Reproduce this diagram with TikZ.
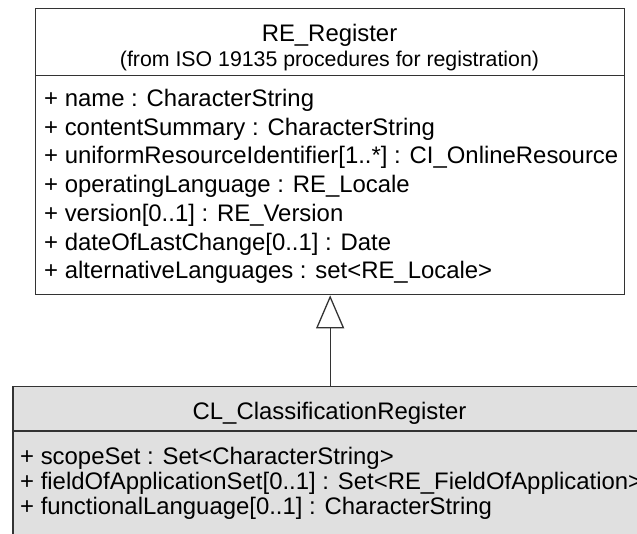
\documentclass[tikz,border=0pt]{standalone}
\usepackage{fontspec}
\setmainfont{Liberation Sans}
\usetikzlibrary{arrows.meta}
\definecolor{clsgray}{HTML}{E0E0E0}
\definecolor{edge}{HTML}{333333}
\tikzset{
  umlbox/.style={draw=edge, line width=1.3pt, inner sep=0pt, anchor=north west},
  attr/.style={anchor=base west, inner sep=0pt, font=\fontsize{23.9}{26}\selectfont},
  ttl/.style={anchor=base, inner sep=0pt, font=\fontsize{23.9}{26}\selectfont},
  sub/.style={anchor=base, inner sep=0pt, font=\fontsize{21.3}{24}\selectfont},
  sepline/.style={draw=edge, line width=1.3pt},
  genarrow/.style={draw=edge, line width=1.3pt, -{Triangle[open, length=33pt, width=28pt, line width=1.3pt]}}
}
\begin{document}
\begin{tikzpicture}[x=1pt, y=-1pt]
\useasboundingbox (0,0) rectangle (637,533);
\clip (0,0) rectangle (637,533);
% superclass
\node[umlbox, fill=white, minimum width=589pt, minimum height=286.5pt] (reg) at (35,7.5) {};
\draw[sepline] (reg.west |- 0,75.7) -- (reg.east |- 0,75.7);
\node[ttl] (regname) at (329.5,41) {RE\_Register};
\node[sub] (regfrom) at (329.5,66) {(from ISO 19135 procedures for registration)};
\node[attr] (a1) at (44,106.5) {+ name : CharacterString};
\node[attr] (a2) at (44,135.2) {+ contentSummary : CharacterString};
\node[attr] (a3) at (44,163.9) {+ uniformResourceIdentifier[1..*] : CI\_OnlineResource};
\node[attr] (a4) at (44,192.6) {+ operatingLanguage : RE\_Locale};
\node[attr] (a5) at (44,221.3) {+ version[0..1] : RE\_Version};
\node[attr] (a6) at (44,250) {+ dateOfLastChange[0..1] : Date};
\node[attr] (a7) at (44,278.7) {+ alternativeLanguages : set<RE\_Locale>};
% subclass
\node[umlbox, fill=clsgray, minimum width=680pt, minimum height=200pt] (cls) at (12.3,385.7) {};
\draw[sepline] (cls.west |- 0,431) -- (cls.east |- 0,431);
\node[ttl] (clsname) at (329.5,419) {CL\_ClassificationRegister};
\node[attr] (b1) at (20,464) {+ scopeSet : Set<CharacterString>};
\node[attr] (b2) at (20,489.3) {+ fieldOfApplicationSet[0..1] : Set<RE\_FieldOfApplication>};
\node[attr] (b3) at (20,514.6) {+ functionalLanguage[0..1] : CharacterString};
% generalization
\draw[genarrow] (reg.south |- cls.north) -- (reg.south);
\end{tikzpicture}
\end{document}
